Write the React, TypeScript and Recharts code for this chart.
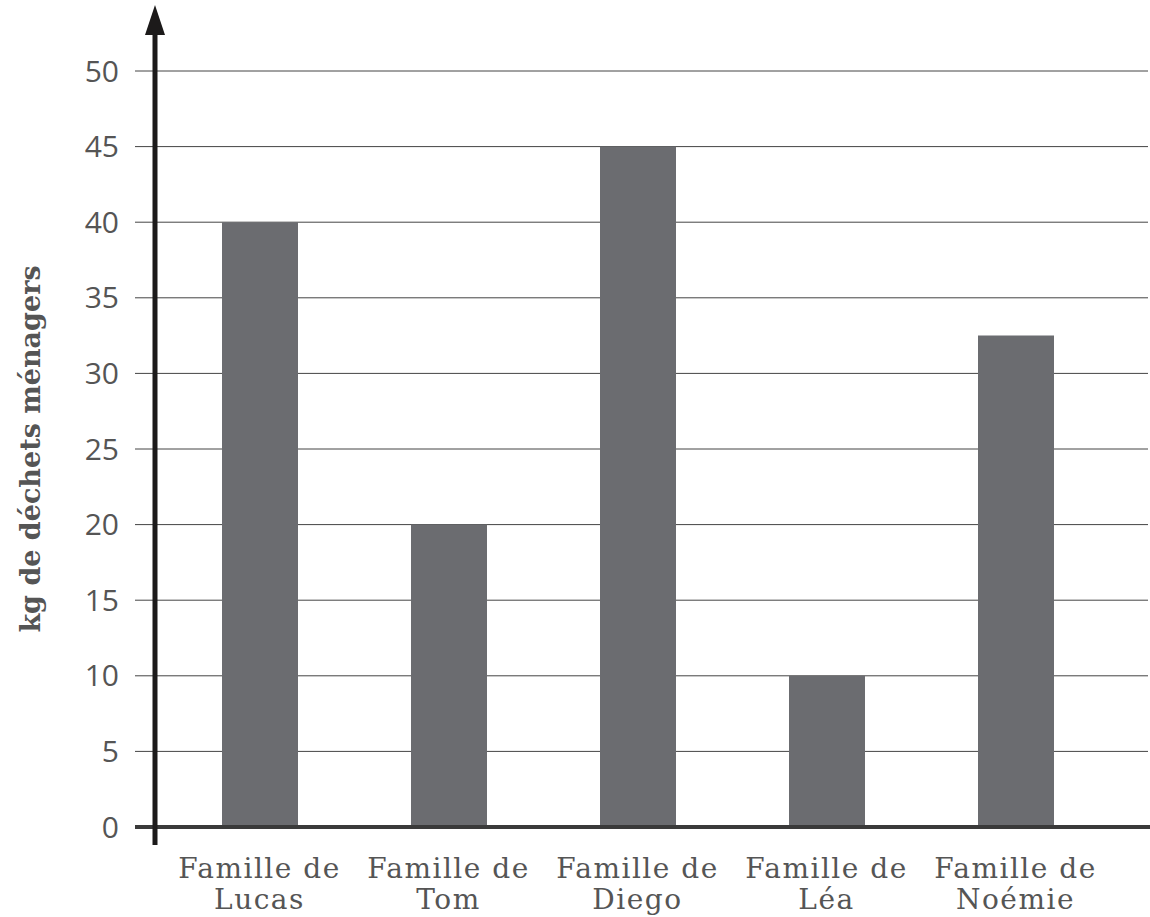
import React from 'react';
import { BarChart, Bar, XAxis, YAxis, CartesianGrid } from 'recharts';

const families = ['Lucas', 'Tom', 'Diego', 'Léa', 'Noémie'];
const wasteKg = [40, 20, 45, 10, 32.5];
const yTicks = [0, 5, 10, 15, 20, 25, 30, 35, 40, 45, 50];

const data = families.map((name, i) => ({ name, kg: wasteKg[i] }));

const W = 1150;
const H = 917;
const AXIS_X = 155;
const ZERO_Y = 827;

// two-line category label: "Famille de" / name
const FamilyTick = (props: any) => {
  const { x, payload } = props;
  return (
    <g>
      <text
        x={x}
        y={ZERO_Y + 51}
        textAnchor="middle"
        fill="#555"
        fontFamily="'DejaVu Serif', serif"
        fontSize={28}
        letterSpacing={1.5}
      >
        Famille de
      </text>
      <text
        x={x}
        y={ZERO_Y + 82}
        textAnchor="middle"
        fill="#555"
        fontFamily="'DejaVu Serif', serif"
        fontSize={28}
        letterSpacing={1.5}
      >
        {payload.value}
      </text>
    </g>
  );
};

export default function App() {
  return (
    <div style={{ position: 'absolute', left: 0, top: 0, width: W, height: H, background: '#fff' }}>
      <BarChart
        width={W}
        height={H}
        data={data}
        margin={{ top: 71, right: 2, bottom: 0, left: 0 }}
      >
        <CartesianGrid vertical={false} stroke="#444" strokeWidth={1} />
        <XAxis
          dataKey="name"
          axisLine={false}
          tickLine={false}
          height={90}
          padding={{ left: 10, right: 38 }}
          tick={<FamilyTick />}
          interval={0}
        />
        <YAxis
          domain={[0, 50]}
          ticks={yTicks}
          width={155}
          axisLine={false}
          tickLine={{ stroke: '#444', strokeWidth: 1 }}
          tickSize={20}
          tickMargin={16}
          tick={{ fill: '#555', fontSize: 30, fontFamily: "'Open Sans', sans-serif" }}
          label={{
            value: 'kg de déchets ménagers',
            angle: -90,
            position: 'insideLeft',
            offset: 30,
            style: {
              textAnchor: 'middle',
              fill: '#555',
              fontSize: 27,
              fontWeight: 'bold',
              fontFamily: "'DejaVu Serif', serif",
            },
          }}
        />
        <Bar dataKey="kg" fill="#6b6c70" barSize={76} isAnimationActive={false} />
      </BarChart>
      <svg
        width={W}
        height={H}
        style={{ position: 'absolute', left: 0, top: 0, pointerEvents: 'none' }}
      >
        <line x1={135} y1={ZERO_Y} x2={W} y2={ZERO_Y} stroke="#3a3a3a" strokeWidth={4} />
        <line x1={AXIS_X} y1={30} x2={AXIS_X} y2={845} stroke="#1c1a1a" strokeWidth={5} />
        <polygon points={`${AXIS_X},5 ${AXIS_X - 10},35 ${AXIS_X + 10},35`} fill="#1c1a1a" />
      </svg>
    </div>
  );
}
